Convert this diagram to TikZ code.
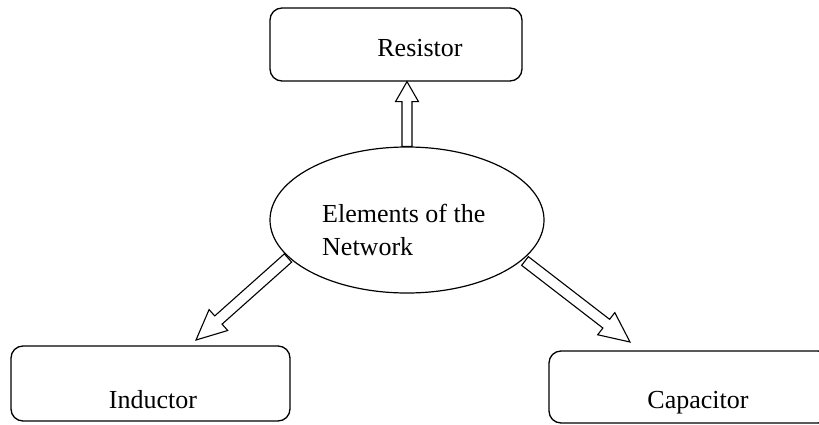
\documentclass[tikz,border=0pt]{standalone}
\usepackage{fontspec}
\setmainfont{Liberation Serif}
\usetikzlibrary{calc,shapes.geometric}
\tikzset{
  boxnode/.style={draw, line width=1.3pt, rounded corners=12pt, inner sep=0pt},
  ellnode/.style={draw, ellipse, line width=1.2pt, inner sep=0pt},
  lbl/.style={font=\fontsize{26}{33}\selectfont, inner sep=0pt},
  hollow/.style={draw, line width=1.1pt, line join=miter}
}
\newcommand{\harrow}[5]{%
  \coordinate (hb) at ($(#2)!#5!(#1)$);
  \draw[hollow] ($(#1)!#3!90:(#2)$) -- ($(hb)!#3!90:(#2)$) -- ($(hb)!#4!90:(#2)$) -- (#2)
    -- ($(hb)!#4!-90:(#2)$) -- ($(hb)!#3!-90:(#2)$) -- ($(#1)!#3!-90:(#2)$) -- cycle;}
\begin{document}
\begin{tikzpicture}[x=1pt,y=1pt]
\useasboundingbox (0,0) rectangle (819,424);
\fill[white] (0,0) rectangle (819,424);
% boxes
\node[boxnode, minimum width=252pt, minimum height=73pt] (res) at (396,379.5) {};
\node[lbl, anchor=base] (resT) at (420,367) {Resistor};
\node[boxnode, minimum width=279pt, minimum height=75pt] (ind) at (150.5,40.5) {};
\node[lbl, anchor=base] (indT) at (153,16) {Inductor};
\node[boxnode, minimum width=281pt, minimum height=72pt] (cap) at (689.5,37) {};
\node[lbl, anchor=base] (capT) at (698,16) {Capacitor};
% ellipse
\node[ellnode, minimum width=274pt, minimum height=146pt] (ell) at (407,204) {};
\node[lbl, align=left, anchor=base west] (ellT) at (322,169) {Elements of the\\Network};
% arrows
\coordinate (upTip) at (ell.north |- res.south);
\coordinate (lTail) at (288,166);
\coordinate (lTip) at (196,84);
\coordinate (rTail) at (525,163);
\coordinate (rTip) at (630,82);
\harrow{ell.north}{upTip}{5pt}{11.5pt}{20pt}
\harrow{lTail}{lTip}{5.5pt}{14pt}{30pt}
\harrow{rTail}{rTip}{5.5pt}{14pt}{30pt}
\end{tikzpicture}
\end{document}
